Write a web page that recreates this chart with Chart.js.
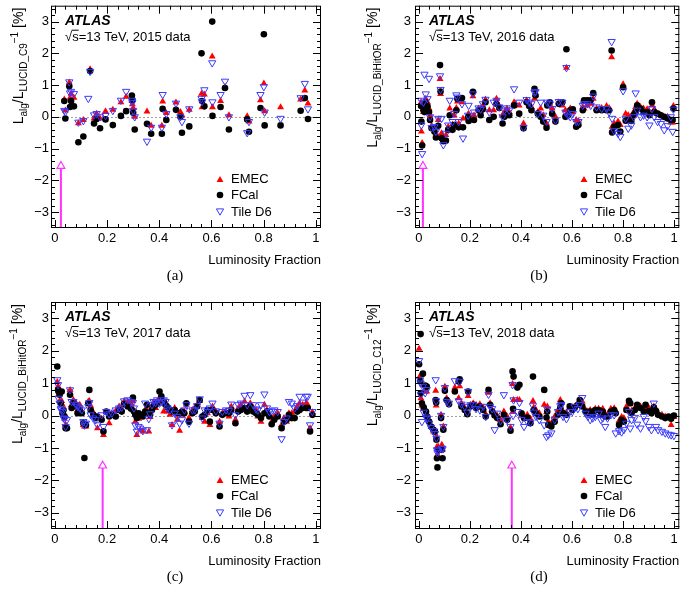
<!DOCTYPE html>
<html>
<head>
<meta charset="utf-8">
<title>LUCID luminosity comparison</title>
<script src="https://cdn.jsdelivr.net/npm/chart.js"></script>
<style>
  body { margin: 0; background: #fff; }
  #wrap { position: relative; width: 685px; height: 591px; }
  canvas { position: absolute; }
</style>
</head>
<body>
<div id="wrap">
  <canvas id="chartA" width="342" height="295" style="left:0;top:0"></canvas>
  <canvas id="chartB" width="343" height="295" style="left:342px;top:0"></canvas>
  <canvas id="chartC" width="342" height="296" style="left:0;top:295px"></canvas>
  <canvas id="chartD" width="343" height="296" style="left:342px;top:295px"></canvas>
</div>

<script>
// ---- data ----
const years = ['2015', '2016', '2017', '2018'];
const lucidAlgs = ['C9', 'BiHitOR', 'BiHitOR', 'C12'];
const captions = ['(a)', '(b)', '(c)', '(d)'];
const arrowX = [0.023, 0.016, 0.183, 0.364];   // luminosity fraction marked by the arrow
const arrowHead = -1.55;
const xTicks = [0, 0.2, 0.4, 0.6, 0.8, 1];
const yTicks = [-3, -2, -1, 0, 1, 2, 3];

// 2015
const lumiA = [0.036,0.040,0.055,0.058,0.062,0.073,0.090,0.109,0.128,0.135,0.150,0.160,0.173,0.194,0.222,0.253,0.273,0.295,0.297,0.300,0.306,0.353,0.369,0.410,0.413,0.427,0.464,0.481,0.487,0.515,0.562,0.564,0.573,0.603,0.604,0.635,0.652,0.667,0.737,0.744,0.788,0.801,0.804,0.865,0.942,0.958,0.970];
const fcalA = [0.50,-0.05,0.96,0.31,0.50,0.33,-0.80,-0.62,null,1.44,-0.21,-0.07,-0.36,-0.08,-0.26,0.03,0.18,0.67,0.53,0.13,-0.40,-0.22,-0.53,-0.53,0.25,-0.10,0.22,0.0,-0.50,-0.30,2.0,0.50,0.33,3.0,0.03,0.31,0.91,-0.40,-0.08,-0.47,0.28,2.6,-0.27,-0.27,0.19,0.59,-0.07];
const emecA = [0.55,0.20,1.08,0.60,0.73,0.60,-0.20,-0.10,null,1.50,-0.05,0.10,-0.05,0.18,0.22,0.46,0.63,0.50,0.40,0.28,0.00,0.17,-0.28,-0.28,0.48,0.12,0.45,0.15,0.05,0.22,0.73,0.30,0.70,1.90,0.30,0.50,0.95,0.05,0.02,-0.15,0.52,1.05,0.18,0.30,0.55,0.83,0.42];
const tileA = [0.20,0.16,1.10,0.75,0.80,0.73,-0.17,-0.12,0.58,1.43,0.06,0.10,0.00,0.04,0.20,0.52,0.80,0.52,0.45,0.20,0.00,-0.77,-0.33,-0.33,0.70,0.10,0.43,0.00,-0.15,0.25,0.58,0.48,0.85,1.70,0.47,0.70,1.12,0.00,-0.50,-0.15,0.70,0.95,0.15,-0.05,0.60,1.05,0.25];

// 2016
const lumiB = [0.009,0.010,0.013,0.018,0.022,0.027,0.034,0.040,0.044,0.050,0.061,0.067,0.076,0.083,0.085,0.089,0.096,0.106,0.115,0.121,0.132,0.138,0.147,0.151,0.156,0.169,0.173,0.193,0.195,0.212,0.216,0.234,0.242,0.251,0.261,0.276,0.293,0.304,0.315,0.328,0.335,0.345,0.354,0.373,0.393,0.410,0.422,0.432,0.441,0.453,0.457,0.466,0.477,0.487,0.500,0.503,0.513,0.522,0.535,0.548,0.562,0.574,0.578,0.584,0.593,0.603,0.616,0.625,0.642,0.647,0.660,0.673,0.683,0.696,0.716,0.735,0.745,0.755,0.757,0.765,0.780,0.789,0.800,0.810,0.820,0.832,0.841,0.849,0.855,0.868,0.880,0.894,0.903,0.913,0.922,0.935,0.948,0.961,0.974,0.987,0.994,0.997];
const fcalB = [0.34,-0.15,-0.90,0.21,0.15,0.46,0.33,0.15,-0.10,-0.36,-0.46,-0.65,-0.28,1.63,0.80,-0.67,-0.77,-0.75,-0.41,0.05,-0.41,-0.26,0.21,0.57,-0.33,0.59,-0.33,0.00,-0.13,0.79,-0.10,0.21,0.05,0.24,0.46,-0.10,0.00,0.41,0.28,-0.21,0.00,0.10,0.05,0.36,0.10,-0.36,0.46,0.34,0.21,0.88,0.67,0.10,0.00,-0.15,-0.34,0.36,0.46,0.10,-0.15,0.41,0.46,0.00,2.13,0.05,0.21,0.24,-0.31,-0.26,0.21,0.52,0.52,0.52,0.75,0.21,0.21,0.21,0.21,2.09,-0.49,-0.31,-0.26,-0.46,0.93,-0.12,-0.10,-0.13,0.05,0.15,0.36,0.26,0.15,0.15,0.05,0.46,0.15,0.10,0.05,0.00,-0.05,-0.10,-0.10,0.26];
const emecB = [0.46,-0.46,-0.82,0.15,0.26,0.57,0.46,0.26,0.05,-0.28,-0.41,-0.52,-0.10,1.19,0.72,-0.52,-0.72,-0.57,-0.31,0.26,-0.24,0.05,0.28,0.48,-0.21,0.46,-0.05,0.07,0.10,0.65,0.05,0.26,0.18,0.36,0.55,0.21,0.21,0.57,0.34,0.05,0.15,0.26,0.15,0.46,0.36,-0.21,0.52,0.41,0.31,0.57,0.69,0.15,0.26,0.05,-0.21,0.41,0.36,0.26,0.00,0.46,0.36,0.21,1.55,0.15,0.26,0.15,-0.10,-0.13,0.31,0.26,0.36,0.41,0.57,0.26,0.28,0.34,0.28,1.88,-0.31,-0.21,-0.15,-0.26,1.03,0.10,0.05,0.00,0.15,0.31,0.41,0.31,0.26,0.24,0.15,0.36,0.24,0.10,0.05,-0.03,0.00,-0.18,-0.18,0.34];
const tileB = [0.52,-0.26,-1.16,0.46,1.34,0.72,0.57,1.21,0.00,-0.34,-0.31,-0.46,-0.05,1.29,0.86,-0.05,-0.88,-0.52,-0.26,0.52,-0.15,0.10,0.69,0.62,-0.15,0.41,-0.67,0.05,0.36,0.72,0.15,0.28,0.24,0.41,0.55,0.15,0.46,0.52,0.31,0.00,0.21,0.28,0.21,0.88,0.46,-0.34,0.54,0.46,0.41,0.77,0.79,0.10,0.46,0.05,-0.15,0.46,0.41,0.26,-0.10,0.48,0.46,0.15,1.55,0.05,0.00,0.10,-0.15,-0.15,0.36,0.41,0.41,0.36,0.65,0.31,0.26,0.26,0.15,2.37,-0.05,-0.44,-0.52,-0.62,0.82,-0.05,-0.36,-0.26,0.00,0.75,0.21,0.00,0.05,0.00,-0.26,0.26,0.00,-0.15,-0.21,-0.41,-0.28,0.00,-0.46,0.24];

// 2017
const lumiC = [0.009,0.012,0.014,0.018,0.022,0.026,0.029,0.033,0.037,0.041,0.046,0.058,0.064,0.071,0.081,0.087,0.095,0.103,0.109,0.113,0.119,0.128,0.132,0.137,0.147,0.156,0.163,0.179,0.186,0.197,0.208,0.218,0.233,0.246,0.256,0.265,0.279,0.292,0.299,0.303,0.308,0.314,0.321,0.327,0.337,0.346,0.353,0.360,0.365,0.372,0.378,0.386,0.392,0.401,0.408,0.417,0.424,0.432,0.441,0.449,0.459,0.469,0.478,0.487,0.496,0.504,0.514,0.527,0.536,0.545,0.555,0.565,0.574,0.585,0.594,0.604,0.617,0.631,0.642,0.656,0.667,0.676,0.692,0.703,0.713,0.727,0.737,0.749,0.760,0.771,0.778,0.790,0.803,0.813,0.822,0.831,0.841,0.854,0.869,0.878,0.888,0.897,0.908,0.919,0.929,0.938,0.950,0.963,0.969,0.978,0.987];
const fcalC = [1.51,0.79,0.74,0.64,0.38,0.74,0.07,0.17,-0.03,-0.39,-0.39,0.64,0.23,0.38,0.28,0.07,0.17,0.07,-0.24,-1.31,-0.29,0.38,0.79,0.17,0.02,-0.08,-0.03,-0.13,-0.49,0.12,-0.03,0.02,-0.03,0.17,0.12,0.35,0.28,0.21,0.55,0.12,0.02,-0.08,0.07,0.02,-0.03,0.12,0.33,0.07,0.02,0.17,0.28,0.33,0.38,0.74,0.59,0.43,0.33,0.25,0.17,0.12,0.17,0.07,0.07,0.12,0.07,0.38,-0.19,0.07,0.12,0.28,0.48,-0.03,0.02,0.17,-0.19,0.17,0.07,-0.34,0.02,0.07,0.07,0.17,-0.24,0.12,0.17,0.23,0.12,0.28,0.12,0.07,0.02,-0.08,0.07,0.12,-0.03,-0.27,-0.13,-0.03,-0.39,-0.19,-0.13,0.02,-0.08,-0.08,0.12,0.17,0.23,0.23,0.23,-0.49,0.02];
const emecC = [1.03,0.90,0.64,0.45,0.33,0.45,0.33,0.10,-0.10,-0.29,-0.34,0.79,0.33,0.48,0.38,0.17,0.33,0.12,-0.29,-0.34,-0.34,0.43,0.45,0.30,0.10,-0.05,-0.39,-0.10,-0.60,0.10,-0.24,0.07,0.14,0.28,0.20,0.43,0.43,0.38,0.45,0.15,-0.19,-0.60,-0.10,-0.44,-0.49,0.17,0.17,-0.49,-0.05,0.28,0.35,0.23,0.43,0.55,0.43,0.12,0.40,0.12,0.02,-0.29,0.23,-0.13,-0.47,0.02,0.12,0.33,-0.08,0.17,0.23,0.33,0.45,-0.08,-0.19,0.07,-0.29,0.28,0.12,-0.19,0.07,0.12,-0.03,0.28,-0.13,0.23,0.33,0.43,0.23,0.38,0.23,0.17,-0.03,-0.19,0.33,0.17,0.02,-0.19,-0.03,0.07,-0.29,-0.08,-0.19,0.07,0.07,0.14,0.28,0.38,0.33,0.38,0.33,-0.39,0.10];
const tileC = [1.10,0.95,0.53,0.38,0.20,0.17,0.12,-0.08,-0.10,-0.34,-0.13,0.79,0.43,0.43,0.33,0.28,0.23,0.17,-0.19,-0.30,-0.24,0.28,0.40,0.02,-0.08,-0.13,-0.29,0.02,-0.34,0.12,0.05,0.07,0.17,0.23,0.25,0.45,0.48,0.43,0.40,0.23,-0.29,-0.49,-0.34,-0.39,-0.47,0.38,-0.44,-0.10,0.05,0.33,0.43,0.40,0.48,0.38,0.43,0.48,0.43,0.23,0.17,-0.29,0.07,-0.03,-0.24,-0.13,0.17,0.33,-0.24,0.17,0.17,0.30,0.51,-0.08,0.17,0.12,0.23,0.38,0.14,-0.24,0.12,0.17,0.15,0.35,0.02,0.33,0.38,0.62,0.33,0.64,0.33,0.20,0.17,0.33,0.66,0.23,0.12,0.14,0.17,0.12,-0.72,-0.19,-0.08,0.43,0.38,0.23,0.30,0.59,0.41,0.59,0.59,-0.29,0.12];

// 2018
const lumiD = [0.001,0.005,0.007,0.008,0.012,0.016,0.019,0.025,0.028,0.031,0.033,0.040,0.048,0.057,0.063,0.066,0.068,0.069,0.071,0.073,0.076,0.087,0.090,0.093,0.096,0.102,0.109,0.118,0.141,0.156,0.160,0.167,0.180,0.190,0.193,0.202,0.213,0.224,0.239,0.252,0.262,0.273,0.279,0.287,0.297,0.307,0.320,0.333,0.346,0.359,0.367,0.369,0.371,0.386,0.394,0.402,0.412,0.425,0.437,0.447,0.450,0.459,0.472,0.491,0.500,0.503,0.507,0.519,0.532,0.545,0.554,0.558,0.565,0.578,0.591,0.601,0.610,0.623,0.630,0.640,0.653,0.662,0.671,0.681,0.691,0.704,0.713,0.720,0.730,0.739,0.752,0.765,0.771,0.784,0.794,0.803,0.813,0.823,0.828,0.833,0.846,0.855,0.868,0.881,0.888,0.901,0.911,0.920,0.929,0.937,0.952,0.965,0.978,0.988,0.999];
const fcalD = [1.58,1.07,2.51,0.69,0.38,1.29,0.25,0.92,0.12,0.89,-0.03,-0.19,-0.34,-0.44,-0.49,0.48,0.40,-0.75,-1.32,-1.60,-1.06,-0.08,-1.06,-1.32,-0.44,0.76,0.48,0.35,0.74,1.05,1.12,0.28,0.17,0.04,0.74,0.28,0.33,0.23,0.28,0.17,-0.03,0.79,0.33,0.12,0.00,-0.08,-0.27,0.02,-0.13,-0.47,1.36,0.21,1.20,0.86,0.95,0.07,-0.08,-0.06,-0.24,1.20,0.17,0.07,-0.03,0.79,-0.06,0.12,-0.29,-0.34,-0.19,0.02,0.23,0.38,0.07,0.02,0.28,0.17,0.23,0.33,0.48,0.28,0.12,0.07,0.12,0.02,0.17,0.17,0.02,0.12,-0.03,-0.03,0.12,0.17,0.07,-0.29,-0.13,-0.19,0.17,0.45,0.38,0.07,0.17,0.33,0.23,0.12,0.33,0.14,0.07,0.25,0.14,0.02,-0.03,-0.08,-0.03,-0.10,0.00];
const emecD = [2.06,1.15,1.25,0.53,0.31,0.95,0.21,0.74,0.02,0.74,-0.06,-0.16,-0.34,-0.49,-0.54,0.76,0.31,-0.65,-0.96,-1.21,-0.96,0.02,-0.90,-1.05,-0.34,0.89,0.53,0.43,0.86,0.53,0.90,0.38,0.23,0.12,0.60,0.33,0.38,0.33,0.35,0.25,0.04,0.70,0.38,0.17,0.07,0.00,-0.13,0.12,-0.03,-0.37,0.97,0.12,0.48,0.48,0.48,0.02,0.00,0.02,-0.10,0.45,0.25,0.17,0.07,0.33,0.10,0.28,-0.19,-0.24,-0.03,0.17,0.48,0.40,0.12,0.10,0.23,0.25,0.28,0.38,0.45,0.43,0.17,0.12,0.17,0.12,0.21,0.21,0.10,0.21,0.05,0.04,0.21,0.22,0.14,-0.16,-0.05,-0.08,0.28,0.40,0.35,0.15,0.23,0.28,0.28,0.20,0.23,0.23,0.15,0.28,0.20,0.07,0.02,-0.03,-0.08,-0.29,-0.05];
const tileD = [1.69,1.10,1.00,0.64,-0.19,0.90,0.10,0.70,-0.05,0.80,-0.10,-0.24,-0.37,-0.47,-0.56,1.10,0.45,-0.70,-1.06,-1.15,-1.09,0.00,-1.01,-1.03,-0.34,0.86,0.43,0.38,1.07,0.45,1.05,0.35,0.28,0.10,0.74,0.33,0.33,0.21,0.17,0.28,-0.03,0.65,0.28,0.21,-0.44,0.07,-0.16,0.64,-0.13,-0.34,0.95,0.00,0.48,0.12,0.40,-0.13,-0.34,-0.19,-0.21,0.30,0.10,-0.03,-0.13,-0.29,-0.65,0.20,-0.60,-0.54,-0.13,0.12,0.30,0.33,-0.03,-0.10,0.12,0.12,0.28,0.21,0.33,0.55,0.07,-0.03,-0.13,-0.08,-0.03,0.07,-0.13,-0.08,-0.34,-0.08,0.02,0.02,-0.54,-0.47,-0.51,-0.44,-0.24,0.12,-0.39,-0.13,-0.06,-0.27,-0.39,-0.03,-0.16,-0.34,-0.44,0.38,-0.34,-0.44,-0.49,-0.54,-0.58,-0.60,-0.62];

// ---- layout of the four pads ----
const pads = [
  { canvas: 'chartA', frame: { l: 51, t: 2, r: 321, b: 228 }, titleX: 23 },
  { canvas: 'chartB', frame: { l: 73, t: 2, r: 340, b: 228 }, titleX: 35 },
  { canvas: 'chartC', frame: { l: 51, t: 7, r: 321, b: 234 }, titleX: 22 },
  { canvas: 'chartD', frame: { l: 73, t: 7, r: 340, b: 234 }, titleX: 35 }
];

const RED = '#ff0000', BLUE = '#3a3aff', MAGENTA = '#ff33ff';
const SANS = '"Liberation Sans", Arial, sans-serif';
Chart.defaults.font.family = SANS;

function tri(ctx, x, y, r, down) {
  const s = down ? -1 : 1;
  ctx.beginPath();
  ctx.moveTo(x, y - s * r);
  ctx.lineTo(x + 0.866 * r, y + s * 0.5 * r);
  ctx.lineTo(x - 0.866 * r, y + s * 0.5 * r);
  ctx.closePath();
}

// ROOT style decorations: frame, inward ticks, texts, legend
const atlasDecor = {
  id: 'atlasDecor',
  beforeDatasetsDraw(chart) {
    const { ctx, chartArea: a, scales: { y } } = chart;
    const y0 = Math.round(y.getPixelForValue(0)) + 0.5;
    ctx.save();
    ctx.strokeStyle = '#a0a0a0';
    ctx.lineWidth = 1;
    ctx.setLineDash([2, 2]);
    ctx.beginPath();
    ctx.moveTo(a.left, y0);
    ctx.lineTo(a.right, y0);
    ctx.stroke();
    ctx.restore();
  },
  afterDatasetsDraw(chart, args, o) {
    const { ctx, chartArea: a, scales: { x, y } } = chart;
    ctx.save();
    ctx.strokeStyle = '#000';
    ctx.lineWidth = 1;
    ctx.strokeRect(a.left + 0.5, a.top + 0.5, a.right - a.left - 1, a.bottom - a.top - 1);

    // inward ticks on all four sides
    ctx.beginPath();
    for (let k = Math.ceil(x.min / 0.04 - 1e-6); k * 0.04 <= x.max + 1e-9; k++) {
      const v = k * 0.04;
      const len = (k % 5 === 0) ? 8 : 4;
      const px = Math.round(x.getPixelForValue(v)) + 0.5;
      ctx.moveTo(px, a.bottom); ctx.lineTo(px, a.bottom - len);
      ctx.moveTo(px, a.top); ctx.lineTo(px, a.top + len);
    }
    for (let k = Math.ceil(y.min / 0.2 - 1e-6); k * 0.2 <= y.max + 1e-9; k++) {
      const v = k * 0.2;
      const len = (k % 5 === 0) ? 8 : 4;
      const py = Math.round(y.getPixelForValue(v)) + 0.5;
      ctx.moveTo(a.left, py); ctx.lineTo(a.left + len, py);
      ctx.moveTo(a.right, py); ctx.lineTo(a.right - len, py);
    }
    ctx.stroke();

    ctx.fillStyle = '#000';
    ctx.textBaseline = 'alphabetic';
    ctx.textAlign = 'left';
    // ATLAS label
    ctx.font = 'italic bold 14px ' + SANS;
    ctx.fillText('ATLAS', a.left + 14, a.top + 19);
    ctx.font = '13px ' + SANS;
    const tx = a.left + 14, ty = a.top + 35;
    ctx.fillText('\u221As=13 TeV, ' + o.year + ' data', tx, ty);
    const wr = ctx.measureText('\u221A').width, ws = ctx.measureText('s').width;
    ctx.beginPath();
    ctx.moveTo(tx + wr - 0.5, ty - 10.5);
    ctx.lineTo(tx + wr + ws, ty - 10.5);
    ctx.stroke();

    // x title
    ctx.textAlign = 'right';
    ctx.textBaseline = 'middle';
    ctx.fillText('Luminosity Fraction', a.right, a.bottom + 32);

    // caption
    ctx.textAlign = 'center';
    ctx.font = '15px "Liberation Serif", "Times New Roman", serif';
    ctx.fillText(o.caption, a.left + 124, a.bottom + 48);

    // y title with sub/superscripts, right-aligned to top of the axis
    const pieces = [
      ['L', 14, 0], ['alg', 10, 4], ['/L', 14, 0], ['LUCID_' + o.alg, 10, 4],
      ['\u22121', 10, -5], [' [%]', 14, 0]
    ];
    let total = 0;
    pieces.forEach(p => { ctx.font = p[1] + 'px ' + SANS; p.push(ctx.measureText(p[0]).width); total += p[3]; });
    ctx.save();
    ctx.translate(o.titleX, a.top + 2 + total);
    ctx.rotate(-Math.PI / 2);
    ctx.textAlign = 'left';
    ctx.textBaseline = 'alphabetic';
    let cx = 0;
    pieces.forEach(p => { ctx.font = p[1] + 'px ' + SANS; ctx.fillText(p[0], cx, p[2]); cx += p[3]; });
    ctx.restore();

    // legend
    const mx = a.left + 169, lx = a.left + 180;
    const rows = [a.bottom - 49, a.bottom - 33, a.bottom - 16];
    ctx.font = '13px ' + SANS;
    ctx.textAlign = 'left';
    ctx.textBaseline = 'middle';
    ctx.fillStyle = RED; tri(ctx, mx, rows[0] + 1, 4, false); ctx.fill();
    ctx.fillStyle = '#000'; ctx.beginPath(); ctx.arc(mx, rows[1], 3.3, 0, Math.PI * 2); ctx.fill();
    ctx.strokeStyle = BLUE; tri(ctx, mx, rows[2] - 1, 4.2, true); ctx.stroke();
    ctx.fillStyle = '#000';
    ctx.fillText('EMEC', lx, rows[0]);
    ctx.fillText('FCal', lx, rows[1]);
    ctx.fillText('Tile D6', lx, rows[2]);
    ctx.restore();
  }
};

function points(lumi, vals) {
  return lumi.map((x, i) => ({ x: x, y: vals[i] })).filter(p => p.y !== null);
}

function makePad(i, lumi, emec, fcal, tile) {
  const pad = pads[i];
  const cv = document.getElementById(pad.canvas);
  const f = pad.frame;
  new Chart(cv, {
    type: 'scatter',
    data: {
      datasets: [
        { label: 'arrow head', data: [{ x: arrowX[i], y: arrowHead }], order: 0,
          pointStyle: 'triangle', pointRadius: 4.5, backgroundColor: '#fff',
          borderColor: MAGENTA, borderWidth: 1.2 },
        { label: 'arrow', data: [{ x: arrowX[i], y: -3.5 }, { x: arrowX[i], y: arrowHead }], order: 1,
          showLine: true, pointRadius: 0, borderColor: MAGENTA, borderWidth: 2 },
        { label: 'Tile D6', data: points(lumi, tile), order: 2,
          pointStyle: 'triangle', rotation: 180, pointRadius: 4.2,
          backgroundColor: 'rgba(0,0,0,0)', borderColor: BLUE, borderWidth: 1 },
        { label: 'FCal', data: points(lumi, fcal), order: 3,
          pointStyle: 'circle', pointRadius: 3.3, backgroundColor: '#000', borderColor: '#000', borderWidth: 0 },
        { label: 'EMEC', data: points(lumi, emec), order: 4,
          pointStyle: 'triangle', pointRadius: 4, backgroundColor: RED, borderColor: RED, borderWidth: 0 }
      ]
    },
    options: {
      responsive: false,
      animation: false,
      devicePixelRatio: 1,
      events: [],
      layout: { padding: { left: 0, top: f.t, right: cv.width - f.r, bottom: 0 } },
      plugins: {
        legend: { display: false },
        tooltip: { enabled: false },
        atlasDecor: { year: years[i], alg: lucidAlgs[i], caption: captions[i], titleX: pad.titleX }
      },
      scales: {
        x: {
          type: 'linear', min: -0.015, max: 1.02,
          grid: { display: false, drawTicks: false }, border: { display: false },
          afterBuildTicks: s => { s.ticks = xTicks.map(v => ({ value: v })); },
          afterFit: s => { s.height = cv.height - f.b; s.paddingLeft = 0; s.paddingRight = 0; },
          ticks: { padding: 3, autoSkip: false, maxRotation: 0, color: '#000',
                   font: { size: 13 }, callback: v => String(v) }
        },
        y: {
          type: 'linear', min: -3.5, max: 3.5,
          grid: { display: false, drawTicks: false }, border: { display: false },
          afterBuildTicks: s => { s.ticks = yTicks.map(v => ({ value: v })); },
          afterFit: s => { s.width = f.l; s.paddingTop = 0; s.paddingBottom = 0; },
          ticks: { padding: i % 2 ? 4 : 2, autoSkip: false, color: '#000',
                   font: { size: 13 }, callback: v => v < 0 ? '\u2212' + (-v) : String(v) }
        }
      }
    },
    plugins: [atlasDecor]
  });
}

makePad(0, lumiA, emecA, fcalA, tileA);
makePad(1, lumiB, emecB, fcalB, tileB);
makePad(2, lumiC, emecC, fcalC, tileC);
makePad(3, lumiD, emecD, fcalD, tileD);
</script>
</body>
</html>
